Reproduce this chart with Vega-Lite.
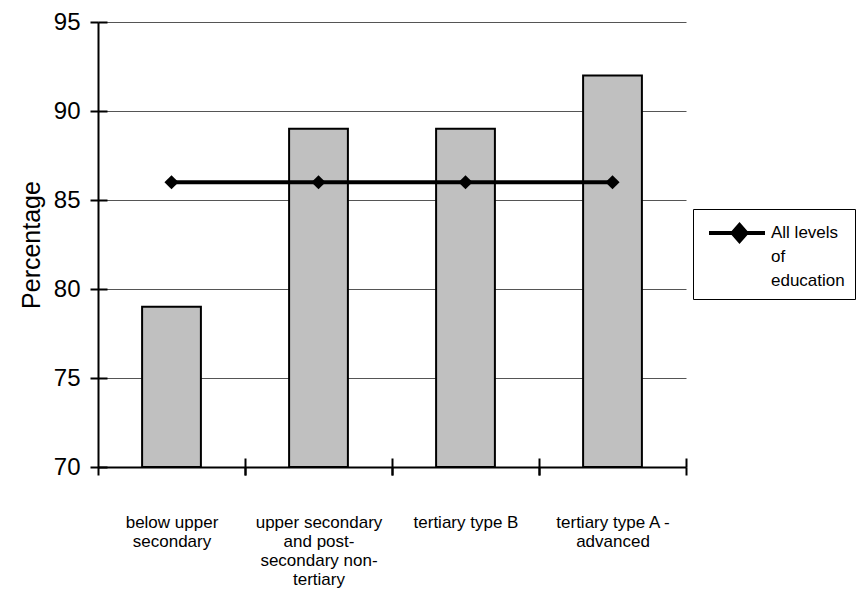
{
  "$schema": "https://vega.github.io/schema/vega-lite/v6.json",
  "autosize": {"type": "none"},
  "width": 588,
  "height": 445,
  "padding": {"left": 98, "top": 22, "right": 175, "bottom": 125},
  "background": "white",
  "config": {
    "view": {"stroke": null},
    "font": "Liberation Sans",
    "style": {"guide-label": {"lineHeight": 24}}
  },
  "data": {
    "values": [
      {"level": "below upper secondary", "pct": 79, "all": 86, "series": "All levels of education"},
      {"level": "upper secondary and post-secondary non-tertiary", "pct": 89, "all": 86, "series": "All levels of education"},
      {"level": "tertiary type B", "pct": 89, "all": 86, "series": "All levels of education"},
      {"level": "tertiary type A - advanced", "pct": 92, "all": 86, "series": "All levels of education"}
    ]
  },
  "resolve": {"axis": {"x": "independent", "y": "independent"}},
  "layer": [
    {
      "mark": {"type": "bar", "fill": "#C0C0C0", "stroke": "black", "strokeWidth": 2},
      "encoding": {
        "x": {
          "field": "level",
          "type": "nominal",
          "sort": null,
          "scale": {"paddingInner": 0.6, "paddingOuter": 0.3},
          "axis": {
            "title": null,
            "labelAngle": 0,
            "ticks": true,
            "tickOffset": 73.5,
            "labelOffset": -73.5,
            "domainColor": "black",
            "domainWidth": 2,
            "tickColor": "black",
            "tickWidth": 2,
            "tickSize": 8,
            "labelColor": "black",
            "labelFontSize": 17,
            "labelLineHeight": 19,
            "labelPadding": 39,
            "labelBaseline": "top",
            "labelLimit": 0,
            "labelExpr": "datum.value == 'below upper secondary' ? ['below upper', 'secondary'] : datum.value == 'upper secondary and post-secondary non-tertiary' ? ['upper secondary', 'and post-', 'secondary non-', 'tertiary'] : datum.value == 'tertiary type A - advanced' ? ['tertiary type A -', 'advanced'] : datum.value"
          }
        },
        "y": {
          "field": "pct",
          "type": "quantitative",
          "scale": {"domain": [70, 95], "nice": false, "zero": false},
          "axis": {
            "title": "Percentage",
            "titleFontSize": 25,
            "titleFontWeight": "normal",
            "titleColor": "black",
            "titlePadding": 9,
            "values": [70, 75, 80, 85, 90, 95],
            "domainColor": "black",
            "domainWidth": 2,
            "tickColor": "black",
            "tickWidth": 2,
            "tickSize": 8,
            "labelColor": "black",
            "labelFontSize": 24,
            "labelPadding": 10,
            "grid": true,
            "gridColor": "#555555",
            "gridWidth": 1
          }
        },
        "y2": {"datum": 70}
      }
    },
    {
      "mark": {"type": "line", "strokeWidth": 4, "color": "black"},
      "encoding": {
        "x": {
          "field": "level",
          "type": "nominal",
          "sort": null,
          "axis": {
            "title": null,
            "orient": "bottom",
            "ticks": true,
            "tickOffset": 73.5,
            "labels": false,
            "domain": false,
            "grid": false,
            "tickColor": "black",
            "tickWidth": 2,
            "tickSize": -9
          }
        },
        "y": {
          "field": "all",
          "type": "quantitative",
          "axis": {
            "title": null,
            "orient": "left",
            "values": [70, 75, 80, 85, 90, 95],
            "labels": false,
            "domain": false,
            "grid": false,
            "tickColor": "black",
            "tickWidth": 2,
            "tickSize": -9
          }
        },
        "color": {
          "field": "series",
          "type": "nominal",
          "scale": {"range": ["black"]},
          "legend": {
            "title": null,
            "orient": "none",
            "legendX": 595,
            "legendY": 187,
            "strokeColor": "black",
            "padding": 10,
            "symbolType": "M-0.667,0L4,0M1.292,0L1.875,-0.667L2.458,0L1.875,0.667Z",
            "symbolSize": 576,
            "symbolStrokeWidth": 4,
            "symbolFillColor": "black",
            "symbolStrokeColor": "black",
            "labelFontSize": 17,
            "labelColor": "black",
            "labelOffset": 40,
            "labelBaseline": "middle",
            "labelLimit": 0,
            "labelExpr": "['All levels', 'of', 'education\u00a0\u00a0']"
          }
        }
      }
    },
    {
      "mark": {"type": "point", "filled": true, "shape": "diamond", "size": 200, "opacity": 1},
      "encoding": {
        "x": {
          "field": "level",
          "type": "nominal",
          "sort": null,
          "axis": {
            "title": null,
            "orient": "bottom",
            "ticks": true,
            "tickOffset": -73.5,
            "labels": false,
            "domain": false,
            "grid": false,
            "tickColor": "black",
            "tickWidth": 2,
            "tickSize": 8
          }
        },
        "y": {"field": "all", "type": "quantitative", "axis": null},
        "color": {"field": "series", "type": "nominal"}
      }
    }
  ]
}
